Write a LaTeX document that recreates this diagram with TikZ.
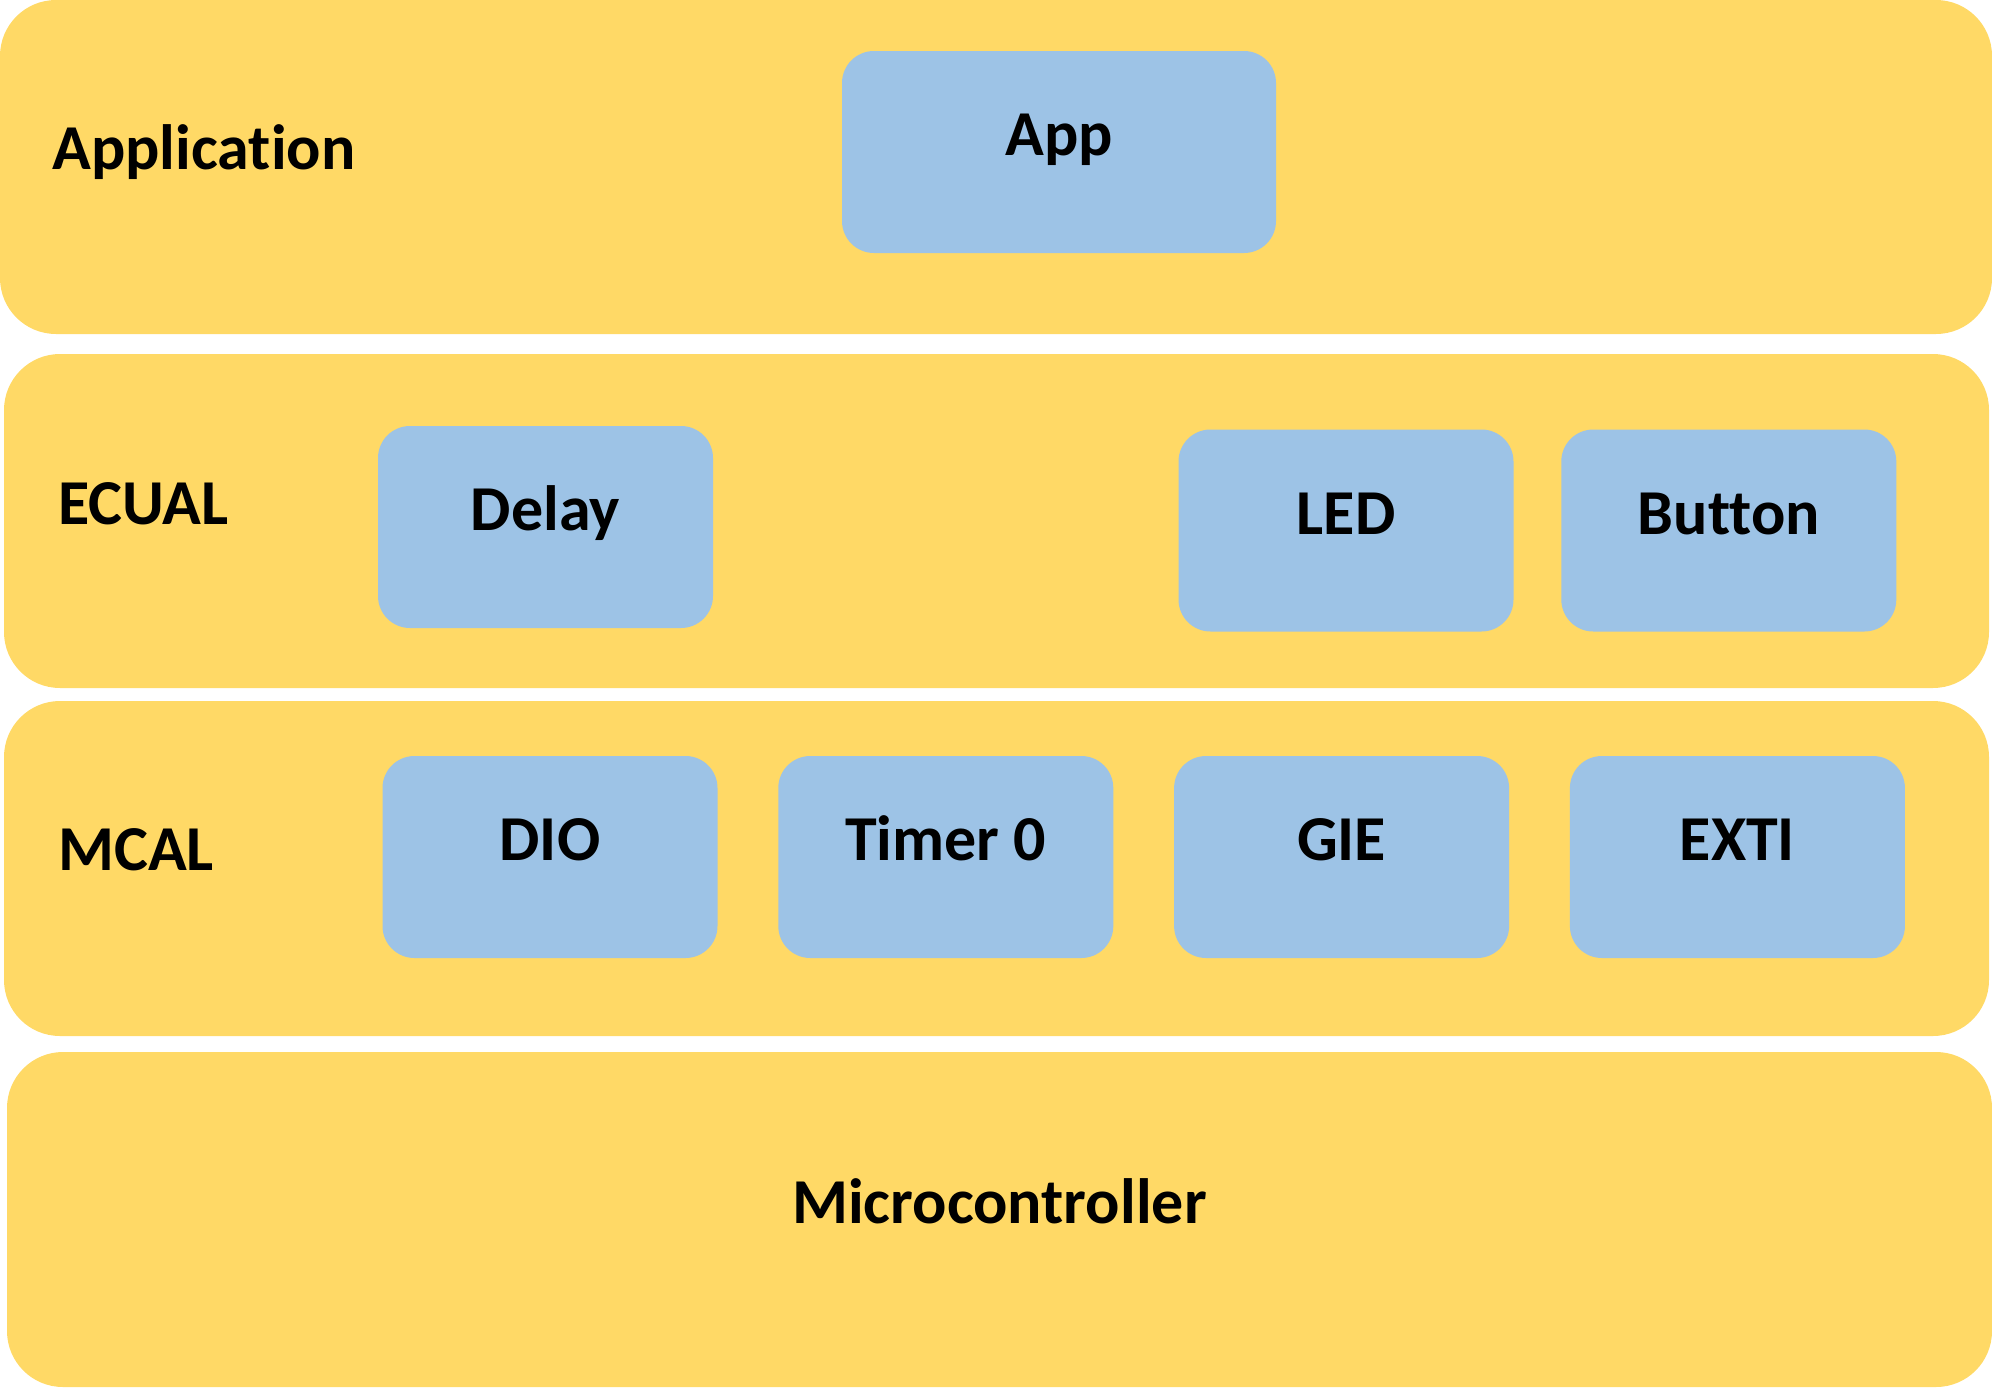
\documentclass[tikz,border=0pt]{standalone}
\usepackage{fontspec}
\setmainfont{Carlito}[Ligatures=NoCommon]
\usepackage{tikz}
\usetikzlibrary{positioning}
\definecolor{layerfill}{HTML}{FFD966}
\definecolor{modfill}{HTML}{9DC3E6}

\begin{document}
\begin{tikzpicture}[
  x=0.5pt,y=-0.5pt,
  node distance=30pt,
  txt/.style={font=\fontsize{32}{38}\selectfont\bfseries},
  layer/.style={fill=layerfill,rounded corners=28pt,inner sep=0pt,minimum width=992.5pt,minimum height=167.5pt},
  mod/.style={txt,fill=modfill,rounded corners=16pt,inner sep=0pt,minimum width=167.5pt,minimum height=101pt,text height=20.5pt,text depth=17pt},
  lbl/.style={txt,inner sep=0pt,anchor=base west}]
  \useasboundingbox (0,0) rectangle (1992,1387);
  % layers
  \node[layer,minimum width=996pt,minimum height=167pt] (app) at (996,167) {};
  \node[layer,minimum height=167pt] (ecual) at (996.5,521) {};
  \node[layer] (mcal) at (996.5,868.5) {};
  \node[layer,txt,text height=20.5pt,text depth=17pt] (mcu) at (999.5,1219.5) {Microcontroller};
  % layer names
  \node[lbl] (applbl) at (52,169) {Application};
  \node[lbl] (ecuallbl) at (58,524) {ECUAL};
  \node[lbl] (mcallbl) at (58,870) {MCAL};
  % modules
  \node[mod,minimum width=217pt] (appmod) at (1059,152) {App};
  \node[mod] (delay) at (545.5,527) {Delay};
  \node[mod] (led) at (1346,530.5) {LED};
  \node[mod,right=23.5pt of led] (button) {Button};
  \node[mod] (dio) at (550,857) {DIO};
  \node[mod,right=of dio] (timer) {Timer 0};
  \node[mod,right=of timer] (gie) {GIE};
  \node[mod,right=of gie] (exti) {EXTI};
\end{tikzpicture}
\end{document}
